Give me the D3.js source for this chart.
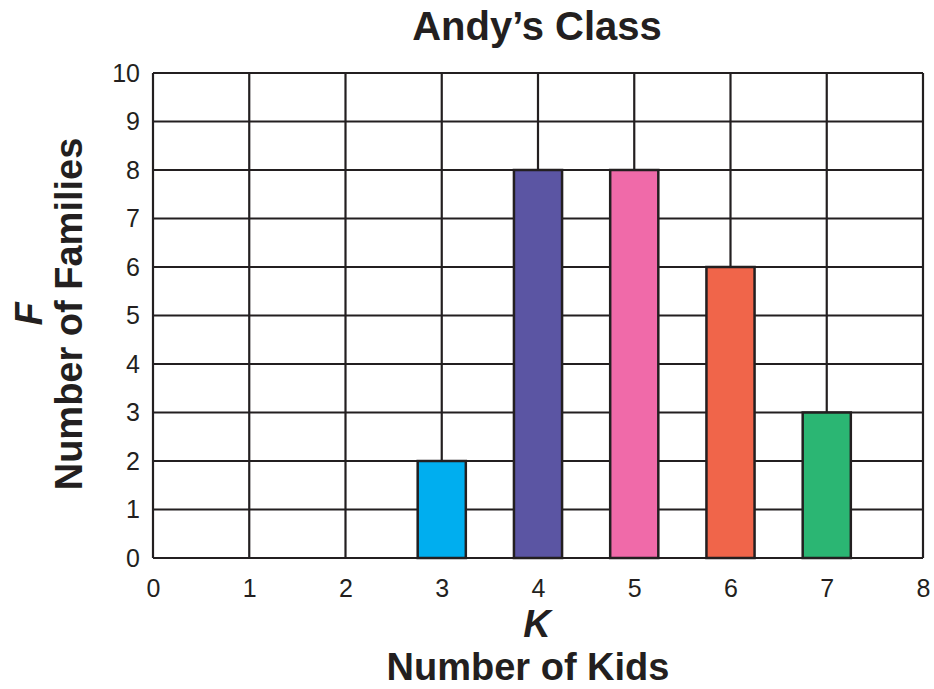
<!DOCTYPE html>
<html>
<head>
<meta charset="utf-8">
<script src="https://cdn.jsdelivr.net/npm/d3@7"></script>
<style>
  body { margin: 0; background: #fff; }
  text { font-family: "Liberation Sans", Arial, sans-serif; fill: #231f20; }
</style>
</head>
<body>
<div id="chart"></div>
<script>
const kids = [3, 4, 5, 6, 7];
const families = [2, 8, 8, 6, 3];
const barColors = ["#00aeef", "#5b55a3", "#f06aa9", "#f0654a", "#2bb673"];
const xTicks = [0, 1, 2, 3, 4, 5, 6, 7, 8];
const yTicks = [0, 1, 2, 3, 4, 5, 6, 7, 8, 9, 10];

const width = 934, height = 689;
const margin = {top: 73, right: 11, bottom: 131, left: 153};
const innerW = width - margin.left - margin.right;
const innerH = height - margin.top - margin.bottom;
const ink = "#231f20";

const svg = d3.select("#chart").append("svg")
    .attr("width", width)
    .attr("height", height);

const g = svg.append("g")
    .attr("transform", `translate(${margin.left},${margin.top})`);

const x = d3.scaleLinear().domain([0, 8]).range([0, innerW]);
const y = d3.scaleLinear().domain([0, 10]).range([innerH, 0]);

// grid
g.selectAll(".vgrid")
    .data(xTicks)
    .enter()
    .append("line")
    .attr("x1", d => x(d)).attr("x2", d => x(d))
    .attr("y1", 0).attr("y2", innerH)
    .attr("stroke", ink).attr("stroke-width", 2.2);

g.selectAll(".hgrid")
    .data(yTicks)
    .enter()
    .append("line")
    .attr("x1", 0).attr("x2", innerW)
    .attr("y1", d => y(d)).attr("y2", d => y(d))
    .attr("stroke", ink).attr("stroke-width", 2.2);

// bars
const barW = x(0.5) - x(0);
g.selectAll(".bar")
    .data(kids)
    .enter()
    .append("rect")
    .attr("x", d => x(d) - barW / 2)
    .attr("y", (d, i) => y(families[i]))
    .attr("width", barW)
    .attr("height", (d, i) => y(0) - y(families[i]))
    .attr("fill", (d, i) => barColors[i])
    .attr("stroke", ink)
    .attr("stroke-width", 2.5);

// axes
const xAxis = g.append("g")
    .attr("transform", `translate(0,${innerH})`)
    .call(d3.axisBottom(x).tickValues(xTicks).tickSize(0).tickPadding(21).tickFormat(d3.format("d")));
xAxis.select(".domain").remove();
xAxis.selectAll("text").style("font-size", "25px").attr("fill", ink);

const yAxis = g.append("g")
    .call(d3.axisLeft(y).tickValues(yTicks).tickSize(0).tickPadding(13).tickFormat(d3.format("d")));
yAxis.select(".domain").remove();
yAxis.selectAll("text").style("font-size", "25px").attr("fill", ink);

// titles
svg.append("text")
    .attr("x", 537)
    .attr("y", 40)
    .attr("text-anchor", "middle")
    .style("font-size", "40px")
    .style("font-weight", "bold")
    .text("Andy\u2019s Class");

svg.append("text")
    .attr("x", 537)
    .attr("y", 637)
    .attr("text-anchor", "middle")
    .style("font-size", "38px")
    .style("font-weight", "bold")
    .style("font-style", "italic")
    .text("K");

svg.append("text")
    .attr("x", 528)
    .attr("y", 680)
    .attr("text-anchor", "middle")
    .style("font-size", "38px")
    .style("font-weight", "bold")
    .text("Number of Kids");

svg.append("text")
    .attr("transform", "translate(42,314) rotate(-90)")
    .attr("text-anchor", "middle")
    .style("font-size", "38px")
    .style("font-weight", "bold")
    .style("font-style", "italic")
    .text("F");

svg.append("text")
    .attr("transform", "translate(82,314) rotate(-90)")
    .attr("text-anchor", "middle")
    .style("font-size", "38px")
    .style("font-weight", "bold")
    .text("Number of Families");
</script>
</body>
</html>
